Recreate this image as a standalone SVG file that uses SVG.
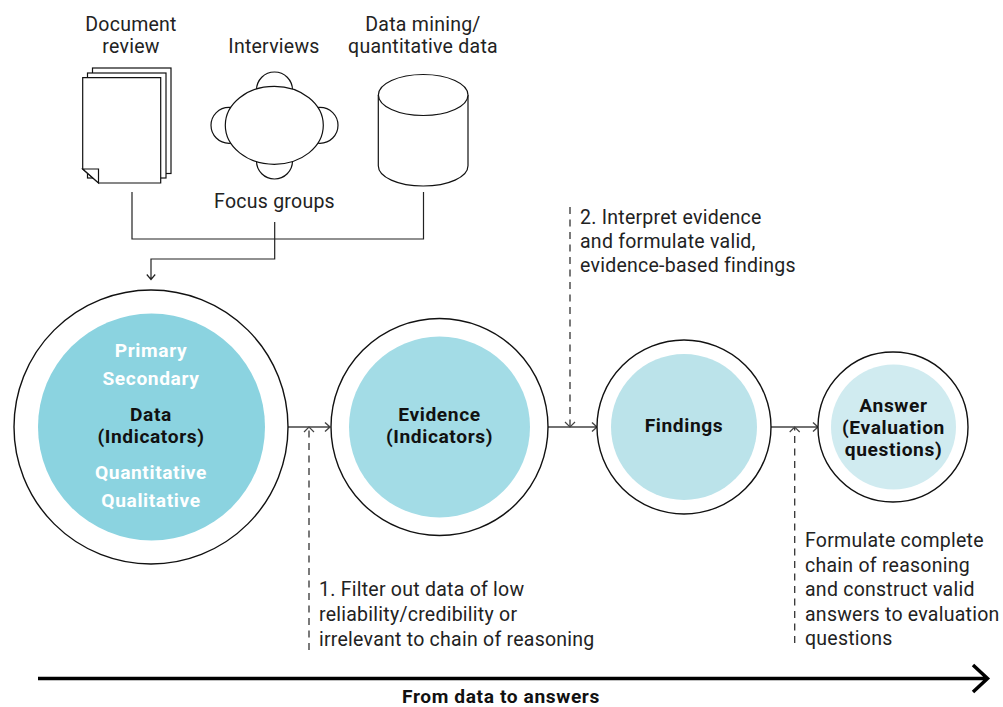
<svg xmlns="http://www.w3.org/2000/svg" width="1003" height="707" viewBox="0 0 1003 707">
<style>
text{font-family:Roboto,"Liberation Sans",sans-serif;font-size:19.5px;letter-spacing:.25px;fill:#222}
.c{text-anchor:middle}
text.b{font-weight:700;fill:#111;font-size:19.2px;letter-spacing:.6px}
text.w{fill:#fff}
.o{fill:#fff;stroke:#111;stroke-width:1.4}
.s{fill:#fff;stroke:#111;stroke-width:1.2}
.l{fill:none;stroke:#222;stroke-width:1.2}
.g{fill:none;stroke:#444;stroke-width:1.4}
.h{fill:none;stroke:#444;stroke-width:1.2}
.d{fill:none;stroke:#333;stroke-width:1.3;stroke-dasharray:7 5.500}
</style>
<rect width="1003" height="707" fill="#fff"/>
<g id="document-review">
<text class="c" x="131" y="31">Document</text><text class="c" x="131" y="53">review</text>
<rect class="s" x="92.500" y="68" width="78.500" height="105.500"/>
<rect class="s" x="87.500" y="73" width="78.500" height="105"/>
<path class="s" d="M82.700 77.700H160.700V183H98.500L82.700 169Z"/>
<path class="s" d="M82.700 169H98.500V183Z"/>
</g>
<g id="focus-groups">
<text class="c" x="274" y="53">Interviews</text>
<circle class="s" cx="274.500" cy="90" r="18"/>
<circle class="s" cx="274.500" cy="161" r="18"/>
<ellipse class="s" cx="229" cy="125.300" rx="18" ry="18"/>
<ellipse class="s" cx="320" cy="125.300" rx="18" ry="18"/>
<ellipse class="s" cx="274.300" cy="125.300" rx="49" ry="39"/>
<text class="c" x="274.500" y="208">Focus groups</text>
</g>
<g id="data-mining">
<text class="c" x="423" y="31">Data mining/</text><text class="c" x="423" y="53">quantitative data</text>
<path class="s" d="M378.300 95V165.700C378.300 177 398 186 423.200 186S468 177 468 165.700V95"/>
<ellipse class="s" cx="423.200" cy="95" rx="44.800" ry="20.500"/>
</g>
<g id="connectors">
<path class="l" d="M132 192V239H423.500V192"/>
<path class="l" d="M274.700 222V259H151V279M146.800 274.500L151 279.500L155.200 274.500"/>
<path class="g" d="M288 427H329.500M325 422.500L330 427L325 431.500"/>
<path class="g" d="M548 427H596.500M592 422.500L597 427L592 431.500"/>
<path class="g" d="M771 427H817.500M813 422.500L818 427L813 431.500"/>
<path class="d" d="M309 650V428"/>
<path class="h" d="M304 432L309 427L314 432"/>
<path class="d" d="M570 207V426"/>
<path class="h" d="M565 422L570 427L575 422"/>
<path class="d" d="M794.700 643V428"/>
<path class="h" d="M789.700 432L794.700 427L799.700 432"/>
<path fill="none" stroke="#000" stroke-width="3.500" d="M38 678.500H987M973 665L987.500 678.500L973 692"/>
</g>
<g id="data">
<circle class="o" cx="151" cy="427" r="137"/><circle cx="151.500" cy="427" r="113.500" fill="#8bd3e0"/>
<text class="c b w" x="151" y="357">Primary</text><text class="c b w" x="151" y="385">Secondary</text>
<text class="c b" x="151" y="421">Data</text><text class="c b" x="151" y="443">(Indicators)</text>
<text class="c b w" x="151" y="479">Quantitative</text><text class="c b w" x="151" y="507">Qualitative</text>
</g>
<g id="evidence">
<circle class="o" cx="439.500" cy="427" r="108.500"/><circle cx="439.500" cy="427" r="90.500" fill="#a3dce6"/>
<text class="c b" x="439.500" y="421">Evidence</text><text class="c b" x="439.500" y="443">(Indicators)</text>
</g>
<g id="findings">
<circle class="o" cx="684" cy="427" r="87"/><circle cx="684" cy="427" r="73" fill="#bbe3ea"/>
<text class="c b" x="684" y="432">Findings</text>
</g>
<g id="answer">
<circle class="o" cx="893" cy="427" r="75"/><circle cx="893.500" cy="427" r="62.500" fill="#d0ebf0"/>
<text class="c b" x="893.500" y="412">Answer</text><text class="c b" x="893.500" y="434">(Evaluation</text><text class="c b" x="893.500" y="456">questions)</text>
</g>
<g id="labels">
<text x="580" y="224">2. Interpret evidence</text><text x="580" y="248">and formulate valid,</text><text x="580" y="272">evidence-based findings</text>
<text x="319" y="596">1. Filter out data of low</text><text x="319" y="621">reliability/credibility or</text><text x="319" y="646">irrelevant to chain of reasoning</text>
<text x="805" y="547">Formulate complete</text><text x="805" y="572">chain of reasoning</text><text x="805" y="596">and construct valid</text><text x="805" y="621">answers to evaluation</text><text x="805" y="645">questions</text>
<text class="c b" x="501" y="702.500">From data to answers</text>
</g>
</svg>
